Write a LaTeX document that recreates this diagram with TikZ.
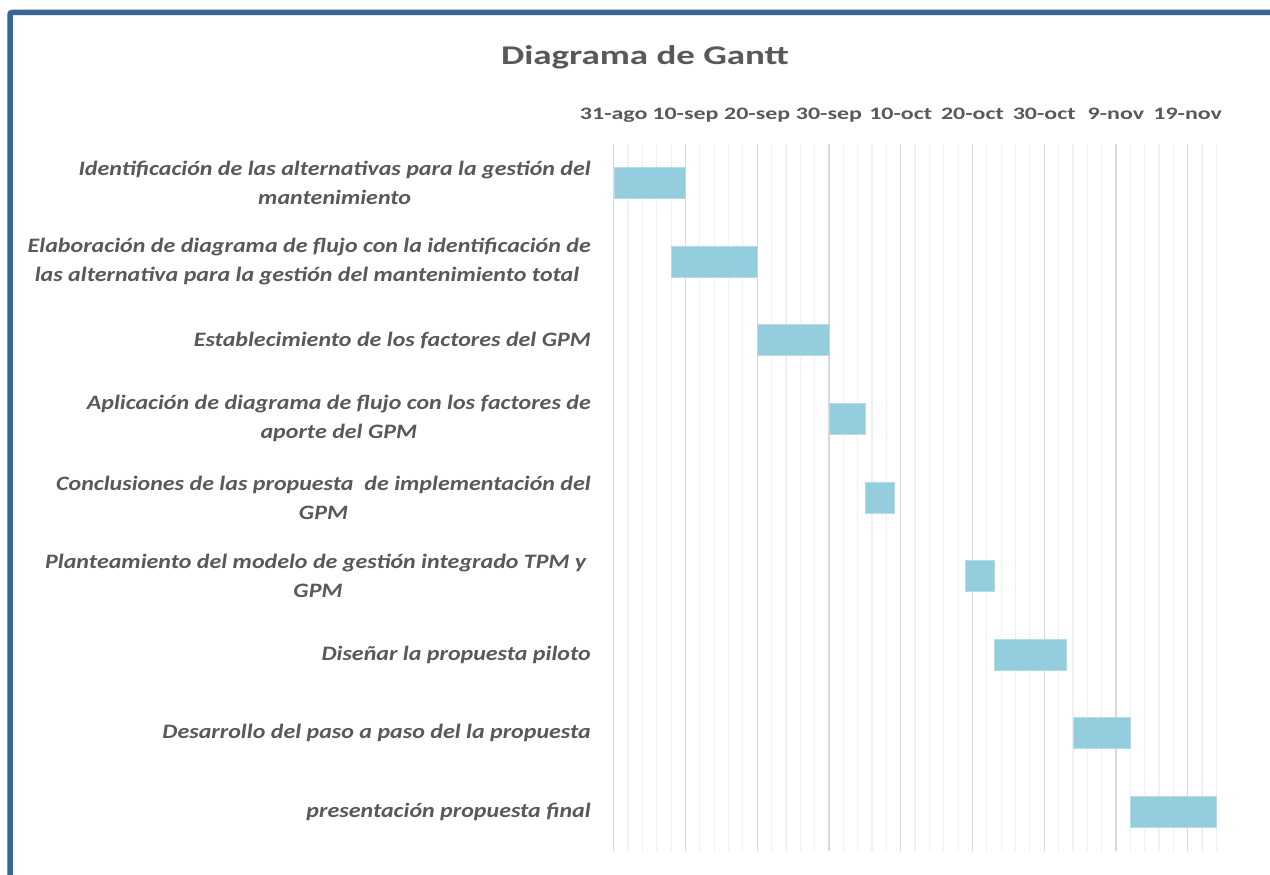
\documentclass[tikz,border=0pt]{standalone}
\usepackage{fontspec}
\setmainfont{Carlito}
\newfontfamily\titlefont[FakeStretch=1.37]{Carlito}
\newfontfamily\taskfont[FakeStretch=1.17]{Carlito}
\definecolor{txt}{HTML}{595959}
\definecolor{framec}{HTML}{3A6597}
\definecolor{barfill}{HTML}{94CDDD}
\definecolor{barline}{HTML}{B4DCE8}
\definecolor{majorc}{HTML}{D9D9D9}
\definecolor{minorc}{HTML}{F0F0F0}
\begin{document}
\begin{tikzpicture}[x=1pt,y=-1pt,
  task/.style={anchor=east,align=center,text=txt,inner sep=0pt,
    font=\taskfont\fontsize{20.5}{29}\selectfont\bfseries\itshape},
  datelbl/.style={text=txt,inner sep=0pt,anchor=base,font=\titlefont\fontsize{17.5}{20}\selectfont\bfseries},
  titlelbl/.style={text=txt,inner sep=0pt,anchor=base,font=\titlefont\fontsize{27}{32}\selectfont\bfseries},
  bar/.style={fill=barfill,draw=barline,line width=0.8pt,minimum height=31pt,inner sep=0pt,anchor=west},
  majorline/.style={draw=majorc,line width=1.4pt},
  minorline/.style={draw=minorc,line width=1.2pt}]
\useasboundingbox (0,0) rectangle (1270,875);
\fill[white] (0,0) rectangle (1270,875);
\draw[framec, line width=5.5pt, rounded corners=2pt] (10,885) -- (10,12.5) -- (1280,12.5);

\def\xo{613.7}
\def\dd{7.175}
% grid
\foreach \d in {0,2,...,84}{
  \draw[minorline] ({\xo+\d*\dd},144) -- ({\xo+\d*\dd},851);
}
\foreach \d in {0,10,...,80}{
  \draw[majorline] ({\xo+\d*\dd},144) -- ({\xo+\d*\dd},851);
}
% title
\node[titlelbl] (title) at (645,64.5) {Diagrama de Gantt};
% date labels
\foreach \d/\t [count=\i] in {0/31-ago,10/10-sep,20/20-sep,30/30-sep,40/10-oct,50/20-oct,60/30-oct,70/9-nov,80/19-nov}{
  \node[datelbl] (d\i) at ({\xo+\d*\dd},119.3) {\t};
}
% bars
\foreach \s/\e [count=\i] in {0/10,8/20,20/30,30/35,35/39,49/53,53/63,64/72,72/84}{
  \pgfmathsetmacro\w{(\e-\s)*\dd}
  \node[bar,minimum width=\w pt] (b\i) at ({\xo+\s*\dd},{183.2+78.55*(\i-1)}) {};
}
% task labels
\node[task] (t1) at (591,{183.2+78.55*0}) {Identificación de las alternativas para la gestión del\\mantenimiento};
\node[task] (t2) at (591,{183.2+78.55*1}) {Elaboración de diagrama de flujo con la identificación de\\las alternativa para la gestión del mantenimiento total\hspace*{0.22em}};
\node[task] (t3) at (591,{183.2+78.55*2}) {Establecimiento de los factores del GPM};
\node[task] (t4) at (591,{183.2+78.55*3}) {Aplicación de diagrama de flujo con los factores de\\aporte del GPM};
\node[task] (t5) at (591,{183.2+78.55*4}) {Conclusiones de las propuesta \ de implementación del\\GPM};
\node[task] (t6) at (591,{183.2+78.55*5}) {Planteamiento del modelo de gestión integrado TPM y\hspace*{0.22em}\\GPM};
\node[task] (t7) at (591,{183.2+78.55*6}) {Diseñar la propuesta piloto};
\node[task] (t8) at (591,{183.2+78.55*7}) {Desarrollo del paso a paso del la propuesta};
\node[task] (t9) at (591,{183.2+78.55*8}) {presentación propuesta final};
\end{tikzpicture}
\end{document}
